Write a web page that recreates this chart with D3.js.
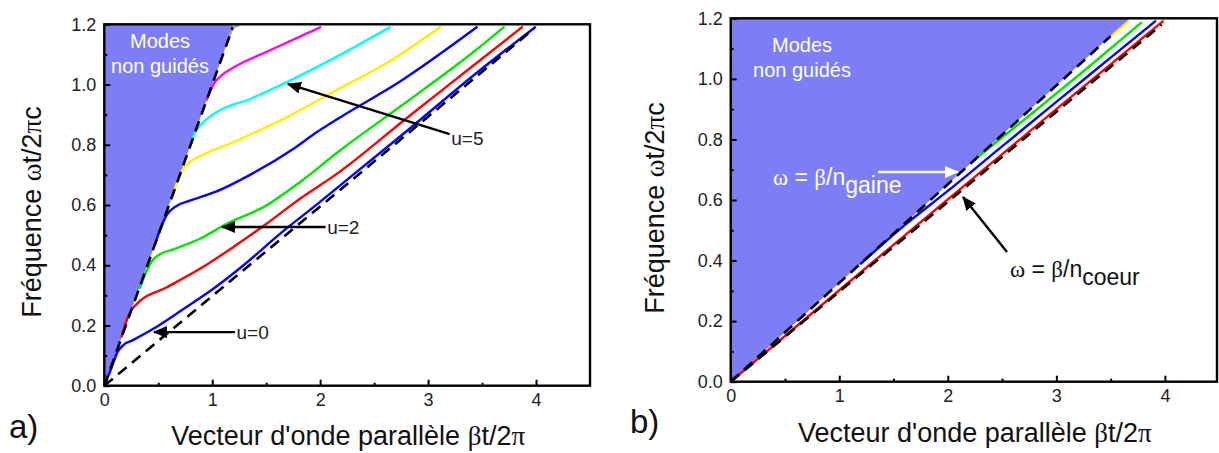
<!DOCTYPE html>
<html><head><meta charset="utf-8">
<script src="https://cdn.jsdelivr.net/npm/d3@7"></script>
<style>
body{margin:0;background:#fff;}
svg{display:block;font-family:"Liberation Sans",Arial,sans-serif;}
</style></head>
<body><svg id="c" width="1219" height="453"></svg>
<script>
// ---------- data ----------
const xTickValues = [0, 1, 2, 3, 4];
const yTickValues = [0, 0.2, 0.4, 0.6, 0.8, 1.0, 1.2];
const xMinorValues = [0.5, 1.5, 2.5, 3.5];
const yMinorValues = [0.1, 0.3, 0.5, 0.7, 0.9, 1.1];

// panel a) light line and core line
const lightLineA = [[0, 0], [1.19, 1.19]];
const coreLineA = [[0, 0], [3.98, 1.185]];
const fillA = [[0, 0], [1.2, 1.2], [0, 1.2]];

const modeU0 = [[0,0],[0.04,0.035],[0.083,0.075],[0.12,0.11],[0.17,0.133],[0.27,0.152],[0.45,0.188],[0.73,0.254],[1.01,0.322],[1.29,0.40],[1.63,0.505],[1.97,0.602],[2.27,0.69],[2.80,0.845],[3.42,1.03],[3.99,1.19]];
const modeU1 = [[0.16,0.163],[0.20,0.21],[0.24,0.245],[0.30,0.271],[0.58,0.327],[0.886,0.388],[1.19,0.459],[1.50,0.537],[1.81,0.620],[2.18,0.71],[2.80,0.888],[3.42,1.063],[3.87,1.19]];
const modeU2 = [[0.33,0.325],[0.39,0.378],[0.45,0.418],[0.52,0.437],[0.64,0.453],[0.886,0.488],[1.13,0.537],[1.50,0.598],[1.81,0.675],[2.18,0.78],[2.80,0.942],[3.42,1.108],[3.70,1.19]];
const modeU3 = [[0.47,0.47],[0.53,0.53],[0.58,0.568],[0.67,0.597],[0.80,0.615],[1.04,0.645],[1.35,0.70],[1.75,0.786],[1.97,0.842],[2.18,0.89],[2.74,1.01],[3.45,1.19]];
const modeU4 = [[0.63,0.63],[0.68,0.68],[0.73,0.718],[0.80,0.745],[0.886,0.762],[1.19,0.808],[1.66,0.886],[2.12,0.975],[2.70,1.09],[3.11,1.19]];
const modeU5 = [[0.79,0.79],[0.84,0.84],[0.886,0.863],[1.04,0.908],[1.35,0.952],[1.72,1.013],[2.12,1.086],[2.645,1.19]];
const modeU6 = [[0.95,0.95],[1.01,1.0],[1.07,1.025],[1.23,1.063],[1.50,1.108],[2.0,1.19]];
const modeGray = [[1.15,1.15],[1.2,1.19],[1.24,1.195]];
const modesA = [modeU0, modeU1, modeU2, modeU3, modeU4, modeU5, modeU6, modeGray];
const colorsA = ["#0000ff", "#ff0000", "#00e600", "#0000ff", "#ffee00", "#00ffff", "#ff00ff", "#aaaaaa"];

// panel b)
const lightLineB = [[0, 0], [3.5, 1.141]];
const coreLineB = [[0, 0], [3.97, 1.179]];
const fillB = [[0, 0], [3.68, 1.2], [0, 1.2]];
const modeBRed = [[0,0],[1,0.302],[2,0.602],[3,0.9],[3.98,1.19]];
const modeBBlue = [[1.2,0.39],[1.6,0.516],[2,0.63],[2.5,0.777],[3,0.924],[3.5,1.07],[3.91,1.19]];
const modeBGreen = [[2.28,0.743],[2.8,0.893],[3.3,1.04],[3.78,1.185]];
const modeBYellow = [[3.52,1.145],[3.66,1.188]];
const modesB = [modeBYellow, modeBGreen, modeBBlue, modeBRed];
const colorsB = ["#ffee00", "#00e600", "#0000ff", "#ff0000"];

const fillColor = "#7d7df6";

// ---------- drawing ----------
const svg = d3.select("#c");
const defs = svg.append("defs");
function marker(id, color) {
  defs.append("marker").attr("id", id).attr("viewBox", "0 0 14 12")
    .attr("refX", 13).attr("refY", 6).attr("markerWidth", 14).attr("markerHeight", 12)
    .attr("markerUnits", "userSpaceOnUse").attr("orient", "auto")
    .append("path").attr("d", "M0,0 L14,6 L0,12 Z").attr("fill", color);
}
marker("ab", "#000");
marker("aw", "#fff");

function panel(cfg) {
  const x = d3.scaleLinear().domain([0, cfg.xmax]).range([cfg.x0, cfg.x1]);
  const y = d3.scaleLinear().domain([0, 1.2]).range([cfg.y0, cfg.y1]);
  const g = svg.append("g");
  const clipId = "clip" + cfg.id;
  defs.append("clipPath").attr("id", clipId).append("rect")
    .attr("x", cfg.x0).attr("y", cfg.y1).attr("width", cfg.x1 - cfg.x0).attr("height", cfg.y0 - cfg.y1);
  const plot = g.append("g").attr("clip-path", `url(#${clipId})`);
  const line = d3.line().x(d => x(d[0])).y(d => y(d[1])).curve(d3.curveMonotoneX);
  const lin = d3.line().x(d => x(d[0])).y(d => y(d[1]));

  plot.append("path").attr("d", lin(cfg.fill) + "Z").attr("fill", fillColor);
  cfg.modes.forEach((m, i) => {
    plot.append("path").attr("d", line(m)).attr("fill", "none")
      .attr("stroke", cfg.colors[i]).attr("stroke-width", 2.4).attr("stroke-linecap", "round");
  });
  [cfg.light, cfg.core].forEach(l => {
    plot.append("path").attr("d", lin(l)).attr("fill", "none")
      .attr("stroke", "#000").attr("stroke-width", 2.6).attr("stroke-dasharray", "11,7");
  });

  // axes
  g.append("g").attr("transform", `translate(0,${cfg.y0})`)
    .call(d3.axisBottom(x).tickValues(xTickValues).tickFormat(d3.format("d")).tickSize(-6).tickPadding(8));
  g.append("g").attr("transform", `translate(0,${cfg.y0})`)
    .call(d3.axisBottom(x).tickValues(xMinorValues).tickFormat("").tickSize(-3));
  g.append("g").attr("transform", `translate(${cfg.x0},0)`)
    .call(d3.axisLeft(y).tickValues(yTickValues).tickFormat(d3.format(".1f")).tickSize(-6).tickPadding(8));
  g.append("g").attr("transform", `translate(${cfg.x0},0)`)
    .call(d3.axisLeft(y).tickValues(yMinorValues).tickFormat("").tickSize(-3));
  g.selectAll(".domain").remove();
  g.selectAll(".tick line").attr("stroke", "#000").attr("stroke-width", 2);
  g.selectAll(".tick text").attr("font-size", 18).attr("fill", "#222")
    .attr("font-family", '"Liberation Sans",Arial,sans-serif');
  g.append("rect").attr("x", cfg.x0).attr("y", cfg.y1).attr("width", cfg.x1 - cfg.x0)
    .attr("height", cfg.y0 - cfg.y1).attr("fill", "none").attr("stroke", "#000").attr("stroke-width", 2.4);

  // axis titles
  const xt = g.append("text").attr("x", (cfg.x0 + cfg.x1) / 2 + 1).attr("y", cfg.xTitleY)
    .attr("text-anchor", "middle").attr("font-size", 27).attr("fill", "#111");
  xt.append("tspan").text("Vecteur d'onde parallèle ");
  xt.append("tspan").text("β").attr("font-family", '"Liberation Serif",serif');
  xt.append("tspan").text("t/2");
  xt.append("tspan").text("π").attr("font-family", '"Liberation Serif",serif');
  const yt = g.append("text").attr("transform", `translate(${cfg.yTitleX},${cfg.yTitleY}) rotate(-90)`)
    .attr("text-anchor", "middle").attr("font-size", 27).attr("fill", "#111");
  yt.append("tspan").text("Fréquence ");
  yt.append("tspan").text("ω").attr("font-family", '"Liberation Serif",serif');
  yt.append("tspan").text("t/2");
  yt.append("tspan").text("π").attr("font-family", '"Liberation Serif",serif');
  yt.append("tspan").text("c");

  svg.append("text").attr("x", cfg.tagX).attr("y", cfg.tagY).attr("font-size", 33)
    .attr("fill", "#111").text(cfg.tag);

  const mt = g.append("text").attr("text-anchor", "middle").attr("font-size", 20).attr("fill", "#fff");
  mt.append("tspan").attr("x", cfg.modesX).attr("y", cfg.modesY).text("Modes");
  mt.append("tspan").attr("x", cfg.modesX).attr("y", cfg.modesY + 25).text("non guidés");
  return {g, x, y};
}

const A = panel({id: "a", x0: 104.3, x1: 590, xmax: 4.5, y0: 385.7, y1: 24.3,
  fill: fillA, light: lightLineA, core: coreLineA, modes: modesA, colors: colorsA,
  xTitleY: 445, yTitleX: 41, yTitleY: 212, tag: "a)", tagX: 9, tagY: 438, modesX: 160, modesY: 48});
const B = panel({id: "b", x0: 730.7, x1: 1217, xmax: 4.48, y0: 381.7, y1: 18.3,
  fill: fillB, light: lightLineB, core: coreLineB, modes: modesB, colors: colorsB,
  xTitleY: 442, yTitleX: 664, yTitleY: 208, tag: "b)", tagX: 630, tagY: 433, modesX: 802, modesY: 52});

// annotations
function arrow(g, x1, y1, x2, y2, color, id) {
  g.append("line").attr("x1", x1).attr("y1", y1).attr("x2", x2).attr("y2", y2)
    .attr("stroke", color).attr("stroke-width", 2.4).attr("marker-end", `url(#${id})`);
}
function label(g, xx, yy, txt, size, color) {
  return g.append("text").attr("x", xx).attr("y", yy).attr("font-size", size).attr("fill", color).text(txt);
}
arrow(A.g, A.x(1.21), A.y(0.178), A.x(0.46), A.y(0.178), "#000", "ab");
label(A.g, A.x(1.225), A.y(0.178) + 7, "u=0", 19, "#222");
arrow(A.g, A.x(2.05), A.y(0.527), A.x(1.09), A.y(0.527), "#000", "ab");
label(A.g, A.x(2.065), A.y(0.527) + 7, "u=2", 19, "#222");
arrow(A.g, A.x(3.20), A.y(0.835), A.x(1.70), A.y(1.002), "#000", "ab");
label(A.g, A.x(3.215), A.y(0.835) + 11, "u=5", 19, "#222");

const tg = B.g.append("text").attr("x", 773).attr("y", 185).attr("font-size", 23).attr("fill", "#fff");
tg.append("tspan").text("ω").attr("font-family", '"Liberation Serif",serif');
tg.append("tspan").text(" = ");
tg.append("tspan").text("β").attr("font-family", '"Liberation Serif",serif');
tg.append("tspan").text("/n");
tg.append("tspan").text("gaine").attr("dy", 8);
arrow(B.g, 878, 172, 958, 172, "#fff", "aw");

const tc = B.g.append("text").attr("x", 1010).attr("y", 277).attr("font-size", 23).attr("fill", "#111");
tc.append("tspan").text("ω").attr("font-family", '"Liberation Serif",serif');
tc.append("tspan").text(" = ");
tc.append("tspan").text("β").attr("font-family", '"Liberation Serif",serif');
tc.append("tspan").text("/n");
tc.append("tspan").text("coeur").attr("dy", 8);
arrow(B.g, 1007, 252, 963, 197, "#000", "ab");
</script></body></html>
